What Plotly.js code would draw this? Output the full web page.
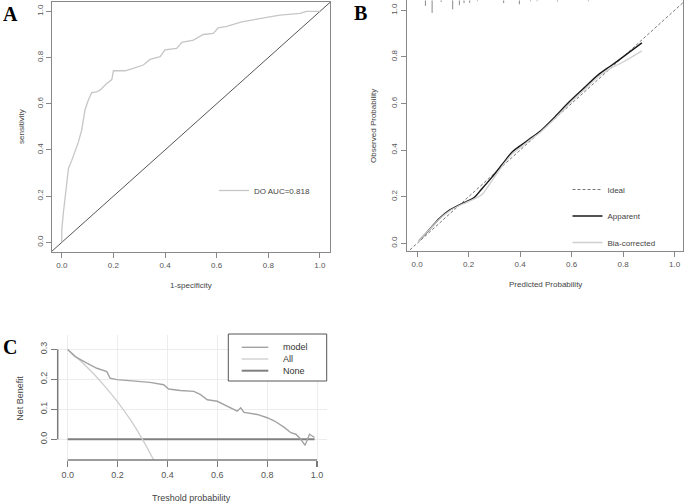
<!DOCTYPE html>
<html>
<head>
<meta charset="utf-8">
<script src="https://cdn.plot.ly/plotly-3.0.1.min.js"></script>
<style>html,body{margin:0;padding:0;background:#fff;}#chart{width:685px;height:504px;}</style>
</head>
<body>
<div id="chart"></div>
<script>
// ---------- Panel A: ROC ----------
const rocFpr = [0, 0, 0.006, 0.013, 0.019, 0.026, 0.039, 0.052, 0.065, 0.077, 0.084, 0.09, 0.103, 0.116, 0.135, 0.148, 0.174, 0.194, 0.2, 0.245, 0.277, 0.316, 0.342, 0.381, 0.4, 0.445, 0.465, 0.51, 0.548, 0.587, 0.606, 0.639, 0.697, 0.755, 0.794, 0.845, 0.923, 0.948, 1];
const rocTpr = [0, 0.053, 0.126, 0.198, 0.27, 0.32, 0.356, 0.392, 0.436, 0.486, 0.544, 0.573, 0.616, 0.648, 0.652, 0.659, 0.688, 0.705, 0.743, 0.743, 0.753, 0.768, 0.792, 0.804, 0.833, 0.84, 0.866, 0.876, 0.9, 0.905, 0.929, 0.935, 0.955, 0.965, 0.974, 0.984, 0.991, 1.0, 1.0];
const rocLabel = "DO AUC=0.818";
const diagX = [-0.1, 1.1];
const diagY = [-0.1, 1.1];

// ---------- Panel B: calibration ----------
const calX        = [0.007, 0.04, 0.088, 0.127, 0.16, 0.19, 0.22, 0.25, 0.29, 0.33, 0.37, 0.40, 0.44, 0.48, 0.53, 0.59, 0.65, 0.70, 0.75, 0.80, 0.873];
const calApparent = [0.011, 0.05, 0.108, 0.143, 0.163, 0.178, 0.195, 0.232, 0.283, 0.338, 0.393, 0.418, 0.45, 0.483, 0.537, 0.606, 0.668, 0.72, 0.76, 0.80, 0.86];
const calBias     = [0.011, 0.05, 0.106, 0.14, 0.16, 0.175, 0.19, 0.207, 0.268, 0.33, 0.385, 0.41, 0.445, 0.478, 0.53, 0.598, 0.66, 0.712, 0.75, 0.778, 0.826];
const rugX   = [0.032, 0.058, 0.093, 0.138, 0.164, 0.182, 0.204, 0.234, 0.336, 0.397, 0.44, 0.466, 0.545, 0.665];
const rugLen = [0.024, 0.054, 0.007, 0.039, 0.021, 0.012, 0.011, 0.004, 0.012, 0.017, 0.004, 0.004, 0.005, 0.004];
const calNames = ["Ideal", "Apparent", "Bia-corrected"];

// ---------- Panel C: decision curve ----------
const thrModel = [0, 0.03, 0.077, 0.117, 0.157, 0.17, 0.197, 0.264, 0.33, 0.385, 0.405, 0.452, 0.506, 0.533, 0.56, 0.6, 0.654, 0.68, 0.694, 0.707, 0.76, 0.8, 0.83, 0.87, 0.895, 0.915, 0.935, 0.952, 0.97, 0.99];
const nbModel  = [0.3, 0.276, 0.254, 0.237, 0.226, 0.204, 0.199, 0.195, 0.19, 0.182, 0.168, 0.163, 0.16, 0.149, 0.132, 0.127, 0.105, 0.094, 0.105, 0.09, 0.083, 0.072, 0.061, 0.039, 0.022, 0.017, 0.0, -0.02, 0.017, 0.006];
const thrAll = [0, 0.05, 0.1, 0.15, 0.2, 0.25, 0.3, 0.35];
const nbAll  = [0.3, 0.263, 0.222, 0.176, 0.125, 0.067, 0.0, -0.077];
const thrNone = [0, 0.99];
const nbNone  = [0, 0];
const dcaNames = ["model", "All", "None"];
const xTicksC = [0, 0.2, 0.4, 0.6, 0.8, 1.0];
const yTicksC = [0, 0.1, 0.2, 0.3];
const ticks01 = [0, 0.2, 0.4, 0.6, 0.8, 1.0];

// ---------- layout helpers ----------
const W = 685, H = 504;
const fx = p => p / W;
const fy = p => 1 - p / H;
const SANS = "Liberation Sans, Arial, sans-serif";
const SERIF = "Liberation Serif, Times New Roman, serif";

const yRangeB = [-0.033, 1.043];
const rugXs = [], rugYs = [];
rugX.forEach((x, i) => {
  rugXs.push(x, x, null);
  rugYs.push(yRangeB[1], yRangeB[1] - rugLen[i], null);
});

const colA = '#c6c6c6';
const cModel = '#a3a3a3', cAll = '#cdcdcd', cNone = '#808080';

const traces = [
  // A
  {x: diagX, y: diagY, xaxis: 'x', yaxis: 'y', mode: 'lines', line: {color: '#555', width: 1}, showlegend: false, hoverinfo: 'skip'},
  {x: rocFpr, y: rocTpr, xaxis: 'x', yaxis: 'y', mode: 'lines', name: rocLabel, line: {color: colA, width: 1.3}, legend: 'legend'},
  // B
  {x: diagX, y: diagY, xaxis: 'x2', yaxis: 'y2', mode: 'lines', name: calNames[0], line: {color: '#777', width: 1, dash: '3px,2px'}, legend: 'legend2', legendgroup: 'g1'},
  {x: calX, y: calApparent, xaxis: 'x2', yaxis: 'y2', mode: 'lines', name: calNames[1], line: {color: '#1a1a1a', width: 1.5, shape: 'spline', smoothing: 0.8}, legend: 'legend2', legendgroup: 'g2'},
  {x: calX, y: calBias, xaxis: 'x2', yaxis: 'y2', mode: 'lines', name: calNames[2], line: {color: '#d0d0d0', width: 1.3, shape: 'spline', smoothing: 0.8}, legend: 'legend2', legendgroup: 'g3'},
  {x: rugXs, y: rugYs, xaxis: 'x2', yaxis: 'y2', mode: 'lines', line: {color: '#888', width: 1}, showlegend: false, hoverinfo: 'skip'},
  // C
  {x: thrNone, y: nbNone, xaxis: 'x3', yaxis: 'y3', mode: 'lines', name: dcaNames[2], line: {color: cNone, width: 2}, showlegend: false},
  {x: thrAll, y: nbAll, xaxis: 'x3', yaxis: 'y3', mode: 'lines', name: dcaNames[1], line: {color: cAll, width: 1.3, shape: 'spline'}, showlegend: false},
  {x: thrModel, y: nbModel, xaxis: 'x3', yaxis: 'y3', mode: 'lines', name: dcaNames[0], line: {color: cModel, width: 1.4}, showlegend: false}
];

const boxAxis = (domain, range, extra) => Object.assign({
  domain: domain, range: range, tickvals: ticks01, tickformat: '.1f',
  ticks: 'outside', ticklen: 5, tickcolor: '#888', tickwidth: 1,
  showline: true, mirror: true, linecolor: '#888', linewidth: 1,
  showgrid: false, zeroline: false,
  tickfont: {family: SANS, size: 8, color: '#555'}
}, extra || {});

const ann = (text, x, y, size, opts) => Object.assign({
  text: text, x: fx(x), y: fy(y), xref: 'paper', yref: 'paper',
  xanchor: 'center', yanchor: 'middle', showarrow: false,
  font: {family: SANS, size: size, color: '#444'}
}, opts || {});

// Legend C geometry (decoration)
const legC = {left: 228.3, right: 326.7, top: 334, bottom: 381, lineX0: 241.7, lineX1: 268.3, textX: 280.7, rows: [347.3, 359, 370.7]};
const legCColors = [cModel, cAll, cNone];
const legCWidths = [1.4, 1.3, 2];

const shapes = [
  // C axis lines between first and last tick
  {type: 'line', xref: 'x3', yref: 'y3 domain', x0: xTicksC[0], x1: xTicksC[xTicksC.length - 1], y0: 0, y1: 0, line: {color: '#7a7a7a', width: 1.5}},
  {type: 'line', xref: 'x3 domain', yref: 'y3', x0: 0, x1: 0, y0: yTicksC[0], y1: yTicksC[yTicksC.length - 1], line: {color: '#7a7a7a', width: 1.5}},
  // C legend box
  {type: 'rect', xref: 'paper', yref: 'paper', x0: fx(legC.left), x1: fx(legC.right), y0: fy(legC.bottom), y1: fy(legC.top), line: {color: '#555', width: 1}, fillcolor: 'rgba(255,255,255,1)'}
];
legC.rows.forEach((r, i) => {
  shapes.push({type: 'line', xref: 'paper', yref: 'paper', x0: fx(legC.lineX0), x1: fx(legC.lineX1), y0: fy(r), y1: fy(r), line: {color: legCColors[i], width: legCWidths[i]}});
});

const annotations = [
  ann('A', 10.5, 13.5, 20, {font: {family: SERIF, size: 20, color: '#000', weight: 'bold'}}),
  ann('B', 360.8, 13, 20, {font: {family: SERIF, size: 20, color: '#000', weight: 'bold'}}),
  ann('C', 9.5, 347, 20, {font: {family: SERIF, size: 20, color: '#000', weight: 'bold'}}),
  ann('sensitivity', 21, 127, 8, {textangle: -90}),
  ann('1-specificity', 190.5, 285, 8),
  ann('Observed Probability', 373, 126, 8, {textangle: -90}),
  ann('Predicted Probability', 545.7, 284.3, 8),
  ann('Net Benefit', 20.5, 398.3, 9, {textangle: -90}),
  ann('Treshold probability', 191.7, 498.3, 9)
];
legC.rows.forEach((r, i) => {
  annotations.push(ann(dcaNames[i], legC.textX, r, 9, {xanchor: 'left', font: {family: SANS, size: 9, color: '#333'}}));
});

const layout = {
  width: W, height: H,
  margin: {l: 0, r: 0, t: 0, b: 0, pad: 0},
  paper_bgcolor: '#fff', plot_bgcolor: 'rgba(0,0,0,0)',
  font: {family: SANS, color: '#555'},
  xaxis: boxAxis([fx(51.7), fx(330)], [-0.039, 1.039], {anchor: 'y'}),
  yaxis: boxAxis([fy(252.3), fy(1.7)], [-0.043, 1.042], {anchor: 'x', tickangle: -90}),
  xaxis2: boxAxis([fx(406.5), fx(683.3)], [-0.0415, 1.034], {anchor: 'y2'}),
  yaxis2: boxAxis([fy(251), fy(0.3)], yRangeB, {anchor: 'x2', tickangle: -90}),
  xaxis3: {
    domain: [fx(57.7), fx(327)], range: [-0.04, 1.04], anchor: 'free', position: fy(460),
    tickvals: xTicksC, tickformat: '.1f', ticks: 'outside', ticklen: 6, tickcolor: '#7a7a7a', tickwidth: 1.2,
    showline: false, zeroline: false, showgrid: true, gridcolor: '#ececec', gridwidth: 1,
    tickfont: {family: SANS, size: 9, color: '#555'}
  },
  yaxis3: {
    domain: [fy(460), fy(335)], range: [-0.069, 0.348], anchor: 'x3',
    tickvals: yTicksC, tickformat: '.1f', ticks: 'outside', ticklen: 6, tickcolor: '#7a7a7a', tickwidth: 1.2,
    showline: false, zeroline: false, showgrid: true, gridcolor: '#ececec', gridwidth: 1, tickangle: -90,
    tickfont: {family: SANS, size: 9, color: '#555'}
  },
  legend: {
    x: fx(214), y: fy(176), xanchor: 'left', yanchor: 'top', xref: 'paper', yref: 'paper',
    bgcolor: 'rgba(0,0,0,0)', borderwidth: 0, font: {family: SANS, size: 8, color: '#444'}, itemwidth: 30
  },
  legend2: {
    x: fx(567.5), y: fy(175), xanchor: 'left', yanchor: 'top', xref: 'paper', yref: 'paper',
    bgcolor: 'rgba(0,0,0,0)', borderwidth: 0, font: {family: SANS, size: 8, color: '#444'}, itemwidth: 30,
    traceorder: 'grouped', tracegroupgap: 7.5
  },
  shapes: shapes,
  annotations: annotations
};

Plotly.newPlot('chart', traces, layout, {displayModeBar: false, staticPlot: true});
</script>
</body>
</html>
